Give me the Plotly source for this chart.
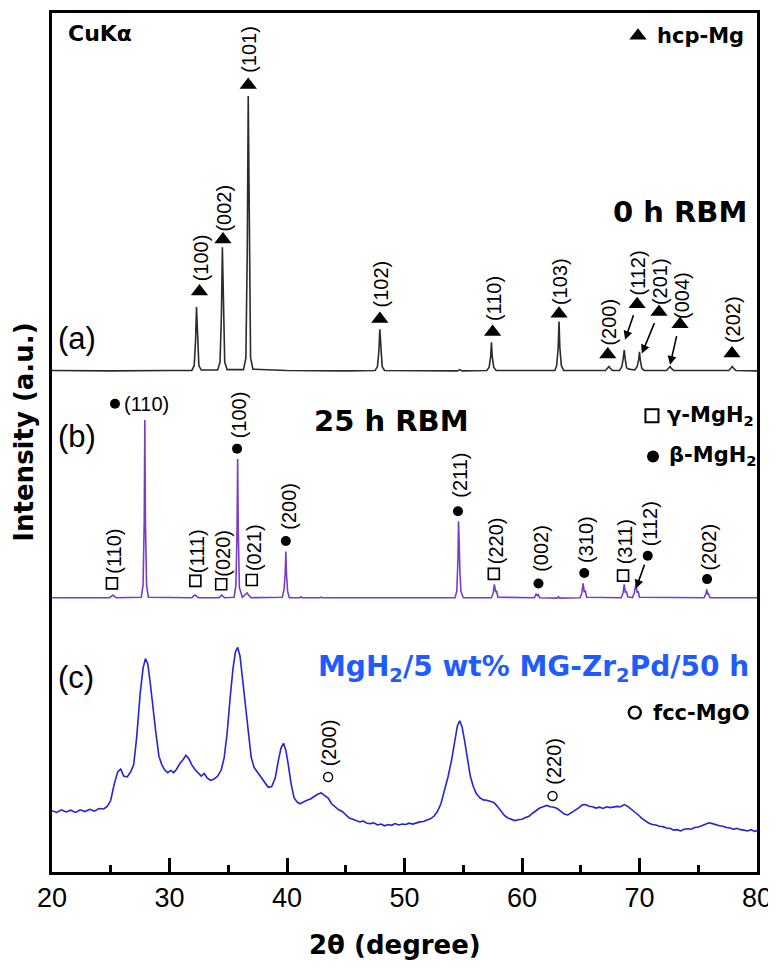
import plotly.graph_objects as go

# ---------------- data (2theta in degrees, intensity in a.u.) ----------------
# (a) 0 h RBM  (intensity relative to own baseline)
pattern_a = [
    (20.0, 0.05), (25.0, 0.0), (30.0, 0.05), (31.9, 0.05), (32.1, 0.6), (32.22, 3.5), (32.3, 7.4),
    (32.38, 3.5), (32.5, 0.6), (32.7, 0.1), (34.1, 0.1), (34.3, 1.0), (34.42, 6.5), (34.5, 14.3),
    (34.58, 6.5), (34.7, 1.0), (34.9, 0.15), (36.3, 0.15), (36.5, 1.5), (36.62, 14.0), (36.7, 31.8),
    (36.78, 14.0), (36.9, 1.5), (37.1, 0.2), (40.0, 0.05), (45.0, 0.0), (47.5, 0.05), (47.7, 0.5),
    (47.82, 2.3), (47.9, 4.8), (47.98, 2.3), (48.1, 0.5), (48.3, 0.05), (54.5, 0.0), (54.7, 0.15),
    (54.9, 0.0), (57.0, 0.05), (57.2, 0.4), (57.33, 1.6), (57.4, 3.3), (57.47, 1.6), (57.6, 0.4),
    (57.8, 0.05), (62.8, 0.05), (62.95, 0.6), (63.08, 2.7), (63.15, 5.7), (63.22, 2.7), (63.35, 0.6),
    (63.55, 0.05), (67.1, 0.05), (67.3, 0.3), (67.4, 0.5), (67.5, 0.3), (67.7, 0.05), (68.3, 0.05),
    (68.5, 0.5), (68.62, 1.5), (68.7, 2.4), (68.78, 1.4), (68.9, 0.35), (69.1, 0.2), (69.6, 0.1),
    (69.8, 0.5), (69.93, 1.3), (70.0, 2.2), (70.07, 1.2), (70.2, 0.3), (70.4, 0.05), (72.3, 0.05),
    (72.5, 0.35), (72.6, 0.5), (72.7, 0.3), (72.9, 0.05), (77.6, 0.05), (77.8, 0.35), (77.9, 0.5),
    (78.0, 0.3), (78.2, 0.05), (80.0, 0.0),
]
# (b) 25 h RBM
pattern_b = [
    (20.0, 0.05), (24.9, 0.05), (25.1, 0.25), (25.2, 0.35), (25.3, 0.2), (25.5, 0.05), (27.6, 0.1),
    (27.75, 1.5), (27.85, 9.0), (27.9, 20.6), (27.95, 9.0), (28.05, 1.5), (28.2, 0.1), (31.9, 0.05),
    (32.1, 0.3), (32.2, 0.35), (32.3, 0.2), (32.5, 0.05), (34.2, 0.05), (34.35, 0.3), (34.45, 0.35),
    (34.55, 0.2), (34.7, 0.05), (35.5, 0.1), (35.65, 1.5), (35.75, 8.0), (35.8, 16.1), (35.85, 8.0),
    (35.95, 1.2), (36.2, 0.1), (36.45, 0.4), (36.6, 0.6), (36.75, 0.3), (36.95, 0.05), (39.6, 0.1),
    (39.75, 1.0), (39.85, 3.0), (39.9, 5.4), (39.95, 3.0), (40.05, 0.8), (40.2, 0.05), (41.1, 0.05),
    (41.2, 0.15), (41.3, 0.05), (42.8, 0.05), (42.9, 0.12), (43.0, 0.05), (54.3, 0.05), (54.45, 0.8),
    (54.55, 4.5), (54.6, 8.9), (54.65, 4.8), (54.72, 3.0), (54.8, 0.8), (55.0, 0.05), (57.4, 0.05),
    (57.55, 0.6), (57.65, 1.6), (57.75, 0.7), (57.82, 0.9), (57.95, 0.1), (61.05, 0.05), (61.2, 0.45),
    (61.3, 0.3), (61.38, 0.4), (61.5, 0.05), (63.0, 0.0), (63.1, 0.15), (63.2, 0.0), (64.95, 0.05),
    (65.1, 0.6), (65.2, 1.7), (65.3, 0.7), (65.38, 0.9), (65.5, 0.1), (68.45, 0.05), (68.6, 0.6),
    (68.7, 1.6), (68.8, 0.6), (68.88, 0.8), (69.0, 0.15), (69.4, 0.05), (69.55, 0.6), (69.7, 1.6),
    (69.8, 0.6), (69.88, 0.8), (70.0, 0.1), (75.5, 0.05), (75.65, 0.5), (75.72, 1.0), (75.8, 0.4),
    (75.86, 0.5), (76.0, 0.05), (80.0, 0.05),
]
# (c) MgH2/5 wt% MG-Zr2Pd/50 h
pattern_c = [
    (20.0, 7.1), (20.4, 6.9), (20.8, 7.2), (21.2, 6.95), (21.6, 7.15), (22.0, 6.9), (22.4, 7.2),
    (22.8, 7.0), (23.2, 7.25), (23.6, 7.05), (24.0, 7.35), (24.4, 7.3), (24.7, 7.6), (25.0, 8.3),
    (25.3, 10.2), (25.6, 11.6), (25.85, 11.9), (26.1, 11.1), (26.4, 11.0), (26.7, 11.6), (26.95, 12.4),
    (27.2, 15.5), (27.5, 20.6), (27.75, 23.6), (27.95, 24.7), (28.15, 24.1), (28.35, 22.0), (28.6, 18.8),
    (28.85, 16.0), (29.1, 13.4), (29.35, 12.4), (29.6, 11.8), (29.85, 11.5), (30.1, 11.75), (30.35, 11.5),
    (30.6, 11.9), (30.9, 12.6), (31.15, 13.0), (31.4, 13.5), (31.65, 13.1), (31.9, 12.4), (32.15, 11.9),
    (32.4, 11.5), (32.7, 11.1), (32.95, 11.4), (33.2, 10.9), (33.5, 10.6), (33.8, 10.75), (34.1, 11.1),
    (34.4, 11.8), (34.65, 13.2), (34.9, 16.0), (35.15, 20.0), (35.4, 23.5), (35.6, 25.4), (35.8, 26.0),
    (36.0, 25.0), (36.2, 22.5), (36.45, 19.2), (36.7, 16.0), (36.95, 13.3), (37.2, 12.1), (37.5, 11.5),
    (37.8, 10.9), (38.1, 10.3), (38.4, 9.8), (38.7, 9.9), (39.0, 10.9), (39.25, 12.8), (39.5, 14.4),
    (39.7, 14.9), (39.9, 14.1), (40.1, 12.5), (40.35, 10.2), (40.6, 8.6), (40.85, 8.1), (41.1, 7.9),
    (41.4, 8.15), (41.7, 8.3), (42.0, 8.45), (42.3, 8.75), (42.6, 9.0), (42.9, 9.15), (43.2, 8.9),
    (43.5, 8.55), (43.8, 7.9), (44.1, 7.55), (44.4, 7.2), (44.7, 7.0), (45.0, 6.6), (45.3, 6.25),
    (45.6, 6.1), (45.9, 5.95), (46.2, 5.8), (46.5, 5.9), (46.8, 5.65), (47.1, 5.6), (47.4, 5.7),
    (47.7, 5.45), (48.0, 5.55), (48.3, 5.35), (48.6, 5.5), (48.9, 5.4), (49.2, 5.6), (49.5, 5.45),
    (49.8, 5.55), (50.1, 5.5), (50.4, 5.65), (50.7, 5.55), (51.0, 5.7), (51.3, 5.8), (51.6, 5.85),
    (51.9, 6.0), (52.2, 6.15), (52.5, 6.45), (52.8, 7.0), (53.1, 7.9), (53.4, 9.3), (53.7, 11.0),
    (54.0, 12.9), (54.25, 15.0), (54.5, 16.9), (54.7, 17.5), (54.9, 16.8), (55.1, 15.3), (55.35, 13.0),
    (55.6, 11.1), (55.85, 9.9), (56.1, 9.1), (56.4, 8.6), (56.7, 8.35), (57.0, 8.3), (57.3, 8.2),
    (57.6, 8.05), (57.9, 7.6), (58.2, 7.1), (58.5, 6.55), (58.8, 6.25), (59.1, 6.1), (59.4, 5.95),
    (59.7, 6.05), (60.0, 6.1), (60.3, 6.3), (60.6, 6.45), (60.9, 6.8), (61.2, 7.15), (61.5, 7.4),
    (61.8, 7.55), (62.1, 7.7), (62.4, 7.55), (62.7, 7.5), (63.0, 7.35), (63.3, 7.0), (63.6, 6.7),
    (63.9, 6.6), (64.2, 6.85), (64.5, 7.05), (64.8, 7.4), (65.1, 7.75), (65.4, 7.8), (65.7, 7.6),
    (66.0, 7.55), (66.3, 7.4), (66.6, 7.5), (66.9, 7.35), (67.2, 7.55), (67.5, 7.45), (67.8, 7.5),
    (68.1, 7.6), (68.4, 7.55), (68.7, 7.8), (69.0, 7.6), (69.3, 7.3), (69.6, 7.0), (69.9, 6.6),
    (70.2, 6.2), (70.5, 5.9), (70.8, 5.65), (71.1, 5.5), (71.4, 5.45), (71.7, 5.3), (72.0, 5.25),
    (72.3, 5.1), (72.6, 5.05), (72.9, 4.85), (73.2, 4.9), (73.5, 4.75), (73.8, 4.95), (74.1, 5.0),
    (74.4, 4.95), (74.7, 5.15), (75.0, 5.2), (75.3, 5.35), (75.6, 5.5), (75.9, 5.7), (76.2, 5.6),
    (76.5, 5.45), (76.8, 5.35), (77.1, 5.3), (77.4, 5.15), (77.7, 5.1), (78.0, 4.95), (78.3, 5.05),
    (78.6, 4.9), (78.9, 4.85), (79.2, 4.75), (79.5, 4.9), (79.8, 4.7), (80.0, 4.8),
]
offset_a = 58.0
offset_b = 31.7
offset_c = 0.0

# reflections: hcp-Mg (pattern a)
hcp_hkl = ["(100)", "(002)", "(101)", "(102)", "(110)", "(103)", "(200)", "(112)", "(201)", "(004)", "(202)"]
hcp_mark_x = [32.55, 34.55, 36.7, 47.9, 57.5, 63.15, 67.3, 69.8, 71.66, 73.45, 77.87]
hcp_mark_y = [67.2, 73.2, 91.1, 64.0, 62.5, 64.6, 59.9, 65.7, 64.8, 63.4, 60.0]
hcp_label_y = [71.1, 76.8, 95.2, 68.0, 66.4, 68.3, 63.7, 69.3, 68.3, 66.7, 63.9]
hcp_arrows = [((69.53, 64.6), (68.77, 61.6)), ((71.32, 63.7), (70.2, 60.0)), ((73.19, 62.2), (72.6, 58.7))]

# beta-MgH2 (pattern b)
beta_hkl = ["(110)", "(100)", "(200)", "(211)", "(002)", "(310)", "(112)", "(202)"]
beta_mark_x = [25.36, 35.75, 39.9, 54.55, 61.4, 65.3, 70.7, 75.75]
beta_mark_y = [54.2, 49.0, 38.3, 41.75, 33.4, 34.6, 36.6, 33.9]
beta_label_y = [54.2, 52.9, 42.3, 45.9, 37.5, 38.5, 40.25, 37.6]
beta_arrows = [((70.47, 35.75), (69.7, 32.8))]

# gamma-MgH2 (pattern b)
gamma_hkl = ["(110)", "(111)", "(020)", "(021)", "(220)", "(311)"]
gamma_mark_x = [25.1, 32.2, 34.4, 37.0, 57.6, 68.6]
gamma_mark_y = [33.4, 33.7, 33.3, 33.8, 34.5, 34.3]
gamma_label_y = [37.1, 37.1, 36.9, 37.5, 38.3, 38.2]

# fcc-MgO (pattern c)
mgo_hkl = ["(200)", "(220)"]
mgo_mark_x = [43.5, 62.6]
mgo_mark_y = [11.0, 8.8]
mgo_label_y = [15.0, 12.8]

x_ticks = [20, 30, 40, 50, 60, 70, 80]

# ---------------- figure ----------------
REG = "Liberation Sans, Arial, sans-serif"
BOLD = "DejaVu Sans, Verdana, sans-serif"
C_A = "#2b2b2b"
C_B = "#7a3cc6"
C_C = "#2323dc"
C_TXT = "#1f5cff"

fig = go.Figure()

for pat, off, col in [(pattern_a, offset_a, C_A), (pattern_b, offset_b, C_B), (pattern_c, offset_c, C_C)]:
    xs = [p[0] for p in pat]
    ys = [p[1] + off for p in pat]
    fig.add_trace(go.Scatter(x=xs, y=ys, mode="lines", line=dict(color=col, width=1.6),
                             hoverinfo="skip", showlegend=False))

def markers(x, y, symbol, size, lw=0):
    fig.add_trace(go.Scatter(x=x, y=y, mode="markers", cliponaxis=False, showlegend=False,
                             hoverinfo="skip",
                             marker=dict(symbol=symbol, size=size, color="black",
                                         line=dict(color="black", width=lw))))

markers(hcp_mark_x, hcp_mark_y, "triangle-up", 15)
markers(beta_mark_x, beta_mark_y, "circle", 10)
markers(gamma_mark_x, gamma_mark_y, "square-open", 11, 1.6)
markers(mgo_mark_x, mgo_mark_y, "circle-open", 9, 1.4)

ann = []
LBL = dict(family=REG, size=20, color="black")

def vlabel(x, y, t):
    ann.append(dict(x=x, y=y, xref="x", yref="y", text=t, showarrow=False, textangle=-90,
                    font=LBL, xanchor="center", yanchor="middle"))

for x, y, t in zip(hcp_mark_x, hcp_label_y, hcp_hkl):
    vlabel(x + 0.1, y, t)
for i, (x, y, t) in enumerate(zip(beta_mark_x, beta_label_y, beta_hkl)):
    if i == 0:
        ann.append(dict(x=x + 0.6, y=y, xref="x", yref="y", text=t, showarrow=False,
                        font=LBL, xanchor="left", yanchor="middle"))
    else:
        vlabel(x + 0.2, y, t)
for x, y, t in zip(gamma_mark_x, gamma_label_y, gamma_hkl):
    vlabel(x + 0.2, y, t)
for x, y, t in zip(mgo_mark_x, mgo_label_y, mgo_hkl):
    vlabel(x + 0.15, y, t)

for (tx, ty), (hx, hy) in hcp_arrows + beta_arrows:
    ann.append(dict(x=hx, y=hy, ax=tx, ay=ty, xref="x", yref="y", axref="x", ayref="y",
                    text="", showarrow=True, arrowhead=2, arrowsize=1.1, arrowwidth=1.6,
                    arrowcolor="black", standoff=0, startstandoff=0))

def txt(x, y, t, size, xanchor="left", color="black", family=BOLD, angle=0, xref="x", yref="y"):
    ann.append(dict(x=x, y=y, xref=xref, yref=yref, text=t, showarrow=False, textangle=angle,
                    font=dict(family=family, size=size, color=color),
                    xanchor=xanchor, yanchor="middle"))

# legend-like keys
markers([69.87], [96.8], "triangle-up", 15)
markers([71.06], [52.8], "square-open", 13, 2)
markers([71.15], [48.1], "circle", 12)
markers([69.6], [18.45], "circle-open", 12, 2.4)
txt(71.35, 96.8, "<b>hcp-Mg</b>", 21)
txt(72.2, 52.8, "<b>γ-MgH<sub>2</sub></b>", 21)
txt(72.3, 48.1, "<b>β-MgH<sub>2</sub></b>", 21)
txt(71.0, 18.45, "<b>fcc-MgO</b>", 21)

txt(21.2, 97.1, "<b>CuKα</b>", 22)
txt(79.3, 76.35, "<b>0 h RBM</b>", 29, xanchor="right")
txt(42.1, 52.25, "<b>25 h RBM</b>", 29)
txt(79.45, 23.6, "<b>MgH<sub>2</sub>/5 wt% MG-Zr<sub>2</sub>Pd/50 h</b>", 28, xanchor="right", color=C_TXT)
txt(20.3, 61.7, "(a)", 31, family=REG)
txt(20.3, 50.4, "(b)", 31, family=REG)
txt(20.3, 22.5, "(c)", 31, family=REG)

# axis titles
txt(0.4865, -0.0847, "<b>2θ (degree)</b>", 26, xanchor="center", xref="paper", yref="paper")
txt(-0.041, 0.5116, "<b>Intensity (a.u.)</b>", 26, xanchor="center", angle=-90,
    xref="paper", yref="paper")

# page body adds an 8px offset, so the figure is sized to fit the window
fig.update_layout(
    width=768, height=964,
    margin=dict(l=44, r=19, t=2, b=100),
    paper_bgcolor="white", plot_bgcolor="white",
    annotations=ann,
    showlegend=False,
    xaxis=dict(range=[20, 80], tickvals=x_ticks, ticktext=[str(v) for v in x_ticks],
               ticks="inside", ticklen=14, tickwidth=2.5, tickcolor="black",
               minor=dict(ticks="inside", dtick=5, tick0=0, ticklen=7, tickwidth=2.5, tickcolor="black"),
               showline=True, linewidth=3, linecolor="black", mirror=True,
               showgrid=False, zeroline=False,
               tickfont=dict(family=REG, size=27, color="black")),
    yaxis=dict(range=[0, 99.42], showticklabels=False, ticks="", showline=True, linewidth=3,
               linecolor="black", mirror=True, showgrid=False, zeroline=False),
)

fig.write_html("out.html")
